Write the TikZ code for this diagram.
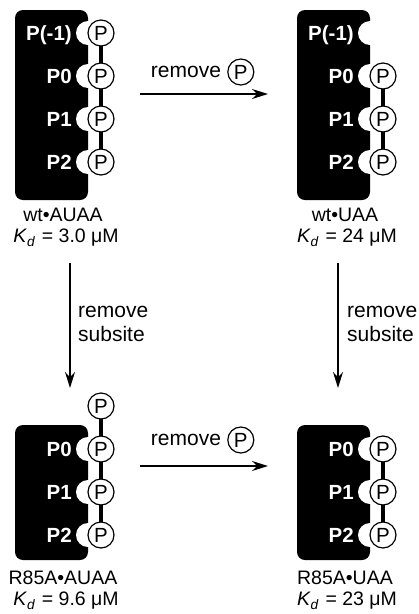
\documentclass[tikz,border=0pt]{standalone}
\usepackage{fontspec}
\setmainfont{Liberation Sans}
\usetikzlibrary{arrows.meta,positioning}

\tikzset{
  pcirc/.style={circle,draw,fill=white,line width=1.2pt,minimum size=26pt,inner sep=0pt,
    text height=14.6pt,text depth=0pt,font=\fontsize{20.5}{20.5}\selectfont},
  site/.style={text=white,anchor=east,inner sep=0pt,text height=14.6pt,text depth=0pt,
    font=\fontsize{20.5}{20.5}\selectfont\bfseries},
  lbl/.style={inner sep=0pt,font=\fontsize{19.5}{23}\selectfont},
  step lbl/.style={inner sep=0pt,font=\fontsize{21}{23.5}\selectfont},
  spine/.style={line width=3.5pt},
  reac/.style={line width=1.4pt,-{Stealth[length=16pt,width=10pt]}}
}
\newcommand{\kdis}[1]{\textit{K}\textsubscript{\textit{d}}\hspace{1pt} = #1}

\begin{document}
\begin{tikzpicture}[x=1pt,y=-1pt]
  \useasboundingbox (0,0) rectangle (419,614);
  % wt.AUAA, top left
  \fill[rounded corners=8pt] (15,10) rectangle (88,200);
  \foreach \y in {33,76,119,162} \fill[white] (88,\y) circle (12pt);
  \draw[spine] (101,33) -- (101,162);
  \foreach \y/\t/\n in {33/P(-1)/m,76/P0/a,119/P1/b,162/P2/c} {
    \node[site] (wa-s\n) at (72,\y) {\t};
    \node[pcirc] (wa-p\n) at (101,\y) {P};
  }
  \node[lbl] (wa-name) at (63,215) {wt•AUAA};
  \node[lbl] (wa-kd) at (66,238) {\kdis{3.0 μM}};
  % wt.UAA, top right
  \fill[rounded corners=8pt] (297,10) rectangle (370,200);
  \foreach \y in {33,76,119,162} \fill[white] (370,\y) circle (12pt);
  \draw[spine] (383,76) -- (383,162);
  \node[site] (wu-sm) at (354,33) {P(-1)};
  \foreach \y/\t/\n in {76/P0/a,119/P1/b,162/P2/c} {
    \node[site] (wu-s\n) at (354,\y) {\t};
    \node[pcirc] (wu-p\n) at (383,\y) {P};
  }
  \node[lbl] (wu-name) at (345,215) {wt•UAA};
  \node[lbl] (wu-kd) at (347,238) {\kdis{24 μM}};
  % R85A.AUAA, bottom left
  \fill[rounded corners=8pt] (15,425) rectangle (88,560);
  \foreach \y in {449,492,535} \fill[white] (88,\y) circle (12pt);
  \draw[spine] (101,406) -- (101,535);
  \node[pcirc] (ra-pm) at (101,406) {P};
  \foreach \y/\t/\n in {449/P0/a,492/P1/b,535/P2/c} {
    \node[site] (ra-s\n) at (72,\y) {\t};
    \node[pcirc] (ra-p\n) at (101,\y) {P};
  }
  \node[lbl] (ra-name) at (63,578) {R85A•AUAA};
  \node[lbl] (ra-kd) at (66,601) {\kdis{9.6 μM}};
  % R85A.UAA, bottom right
  \fill[rounded corners=8pt] (297,425) rectangle (370,560);
  \foreach \y in {449,492,535} \fill[white] (370,\y) circle (12pt);
  \draw[spine] (383,449) -- (383,535);
  \foreach \y/\t/\n in {449/P0/a,492/P1/b,535/P2/c} {
    \node[site] (ru-s\n) at (354,\y) {\t};
    \node[pcirc] (ru-p\n) at (383,\y) {P};
  }
  \node[lbl] (ru-name) at (345,578) {R85A•UAA};
  \node[lbl] (ru-kd) at (347,601) {\kdis{23 μM}};
  % horizontal steps: remove P
  \coordinate (top-a) at (140,94);
  \coordinate (top-b) at (268,94);
  \draw[reac] (top-a) -- (top-b);
  \node[step lbl] (top-rm) at (186,72) {remove};
  \node[pcirc,right=6pt of top-rm] (top-rmp) {P};
  \coordinate (bot-a) at (140,466);
  \coordinate (bot-b) at (268,466);
  \draw[reac] (bot-a) -- (bot-b);
  \node[step lbl] (bot-rm) at (186,440) {remove};
  \node[pcirc,right=6pt of bot-rm] (bot-rmp) {P};
  % vertical steps: remove subsite
  \coordinate (left-a) at (70,263);
  \coordinate (left-b) at (70,388);
  \draw[reac] (left-a) -- (left-b);
  \node[step lbl,align=left,anchor=west] (left-rm) at (78,324) {remove\\subsite};
  \coordinate (right-a) at (338,263);
  \coordinate (right-b) at (338,388);
  \draw[reac] (right-a) -- (right-b);
  \node[step lbl,align=left,anchor=west] (right-rm) at (347,324) {remove\\subsite};
\end{tikzpicture}
\end{document}
